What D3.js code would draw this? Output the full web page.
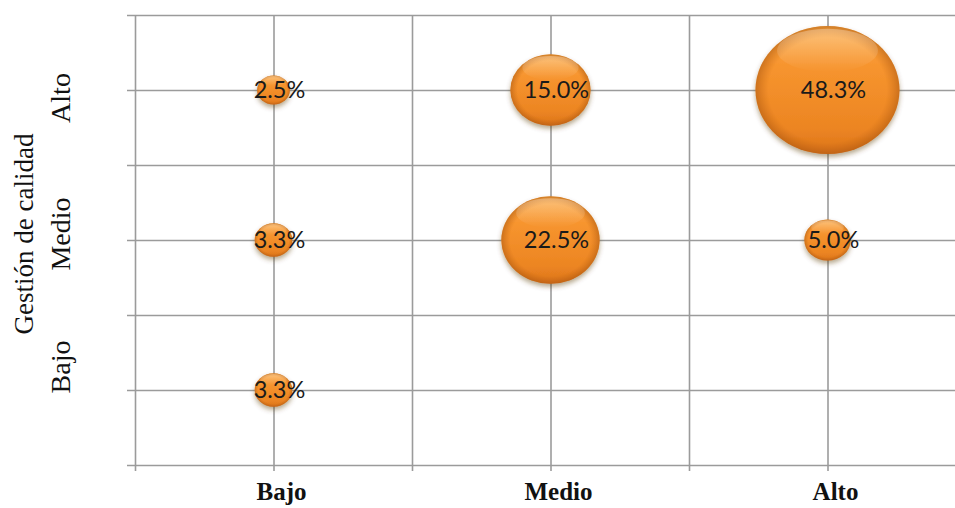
<!DOCTYPE html>
<html>
<head>
<meta charset="utf-8">
<script src="https://cdn.jsdelivr.net/npm/d3@7"></script>
<style>
  html, body { margin: 0; padding: 0; background: #fff; overflow: hidden; }
  svg { display: block; }
</style>
</head>
<body>
<svg id="chart" width="955" height="508"></svg>
<script>
// Category levels shared by both axes
const levels = ["Bajo", "Medio", "Alto"];
// Half-step grid positions (category centres sit on whole numbers)
const gridSteps = [0.5, 1, 1.5, 2, 2.5, 3, 3.5];
// Bubbles: column level, row level (Gestión de calidad) and percentage
const colLevel = ["Bajo", "Medio", "Alto", "Bajo", "Medio", "Alto", "Bajo"];
const rowLevel = ["Alto", "Alto", "Alto", "Medio", "Medio", "Medio", "Bajo"];
const percents = [2.5, 15.0, 48.3, 3.3, 22.5, 5.0, 3.3];
const yTitle = "Gestión de calidad";

(function () {
const svg = d3.select("#chart");
const plotLeft = 135, plotRight = 966, plotTop = 15, plotBottom = 465;

const x = d3.scaleLinear().domain([0.5, 3.5]).range([plotLeft, plotRight]);
const y = d3.scaleLinear().domain([0.5, 3.5]).range([plotBottom, plotTop]);
const r = d3.scaleSqrt().domain([0, 48.3]).range([0, 72]);
const pos = d => levels.indexOf(d) + 1;

// Gradients and shadow for the glossy bubbles
const defs = svg.append("defs");
const grad = defs.append("linearGradient").attr("id", "bubbleFill")
  .attr("x1", 0).attr("y1", 0).attr("x2", 0).attr("y2", 1);
grad.append("stop").attr("offset", "0%").attr("stop-color", "#fba842");
grad.append("stop").attr("offset", "30%").attr("stop-color", "#f7952f");
grad.append("stop").attr("offset", "80%").attr("stop-color", "#ec8522");
grad.append("stop").attr("offset", "100%").attr("stop-color", "#dc741b");

const rim = defs.append("radialGradient").attr("id", "bubbleRim")
  .attr("cx", "50%").attr("cy", "50%").attr("r", "50%");
rim.append("stop").attr("offset", "82%").attr("stop-color", "#b85d10").attr("stop-opacity", 0);
rim.append("stop").attr("offset", "100%").attr("stop-color", "#a4520e").attr("stop-opacity", 0.5);

const gloss = defs.append("linearGradient").attr("id", "bubbleGloss")
  .attr("x1", 0).attr("y1", 0).attr("x2", 0).attr("y2", 1);
gloss.append("stop").attr("offset", "0%").attr("stop-color", "#fff").attr("stop-opacity", 0.3);
gloss.append("stop").attr("offset", "100%").attr("stop-color", "#fff").attr("stop-opacity", 0);

const shadow = defs.append("filter").attr("id", "bubbleShadow")
  .attr("x", "-30%").attr("y", "-30%").attr("width", "160%").attr("height", "170%");
shadow.append("feDropShadow").attr("dx", 0).attr("dy", 3).attr("stdDeviation", 2.5)
  .attr("flood-color", "#5a3a10").attr("flood-opacity", 0.45);

// Grid lines with short outer ticks
const gridStyle = g => {
  g.select(".domain").remove();
  g.selectAll(".tick line").attr("stroke", "#9b9b9b").attr("stroke-width", 1.6);
  g.selectAll(".tick text").remove();
};
svg.append("g")
  .attr("transform", `translate(${plotLeft - 8},0)`)
  .call(d3.axisLeft(y).tickValues(gridSteps).tickSizeInner(-(plotRight - plotLeft + 8)).tickSizeOuter(0))
  .call(gridStyle);
svg.append("g")
  .attr("transform", `translate(0,${plotBottom + 6})`)
  .call(d3.axisBottom(x).tickValues(gridSteps).tickSizeInner(-(plotBottom - plotTop + 6)).tickSizeOuter(0))
  .call(gridStyle);

// Bubbles
const data = percents.map((v, i) => ({ cx: pos(colLevel[i]), cy: pos(rowLevel[i]), v }));
const bubbles = svg.append("g").selectAll("g").data(data).join("g")
  .attr("transform", d => `translate(${x(d.cx)},${y(d.cy)})`);
bubbles.append("ellipse")
  .attr("rx", d => r(d.v)).attr("ry", d => r(d.v) * 0.89)
  .attr("fill", "url(#bubbleFill)")
  .attr("filter", "url(#bubbleShadow)");
bubbles.append("ellipse")
  .attr("rx", d => r(d.v)).attr("ry", d => r(d.v) * 0.89)
  .attr("fill", "url(#bubbleRim)");
bubbles.append("ellipse")
  .attr("cy", d => -r(d.v) * 0.55)
  .attr("rx", d => r(d.v) * 0.7).attr("ry", d => r(d.v) * 0.3)
  .attr("fill", "url(#bubbleGloss)");
bubbles.append("text")
  .attr("x", 6).attr("dy", "0.36em")
  .attr("text-anchor", "middle")
  .style("font-family", "Lato, 'Open Sans', sans-serif")
  .style("font-size", "23.5px")
  .attr("fill", "#1a1a1a")
  .text(d => d.v.toFixed(1) + "%");

// Category labels along the bottom
svg.append("g").selectAll("text").data(levels).join("text")
  .attr("x", d => x(pos(d)) + 8).attr("y", 500)
  .attr("text-anchor", "middle")
  .style("font-family", "'Liberation Serif', 'Times New Roman', serif")
  .style("font-weight", "bold")
  .style("font-size", "25px")
  .attr("fill", "#111")
  .text(d => d);

// Category labels along the left side (rotated)
svg.append("g").selectAll("text").data(levels).join("text")
  .attr("transform", d => `translate(70,${y(pos(d)) + (pos(d) === 1 ? -23 : pos(d) === 3 ? 8 : -6)}) rotate(-90)`)
  .attr("text-anchor", "middle")
  .style("font-family", "'Liberation Serif', 'Times New Roman', serif")
  .style("font-size", "28px")
  .attr("fill", "#111")
  .text(d => d);

// Axis title
svg.append("text")
  .attr("transform", `translate(33,${(plotTop + plotBottom) / 2 - 6}) rotate(-90)`)
  .attr("text-anchor", "middle")
  .style("font-family", "'Liberation Serif', 'Times New Roman', serif")
  .style("font-size", "27px")
  .attr("fill", "#111")
  .text(yTitle);
})();
</script>
</body>
</html>
